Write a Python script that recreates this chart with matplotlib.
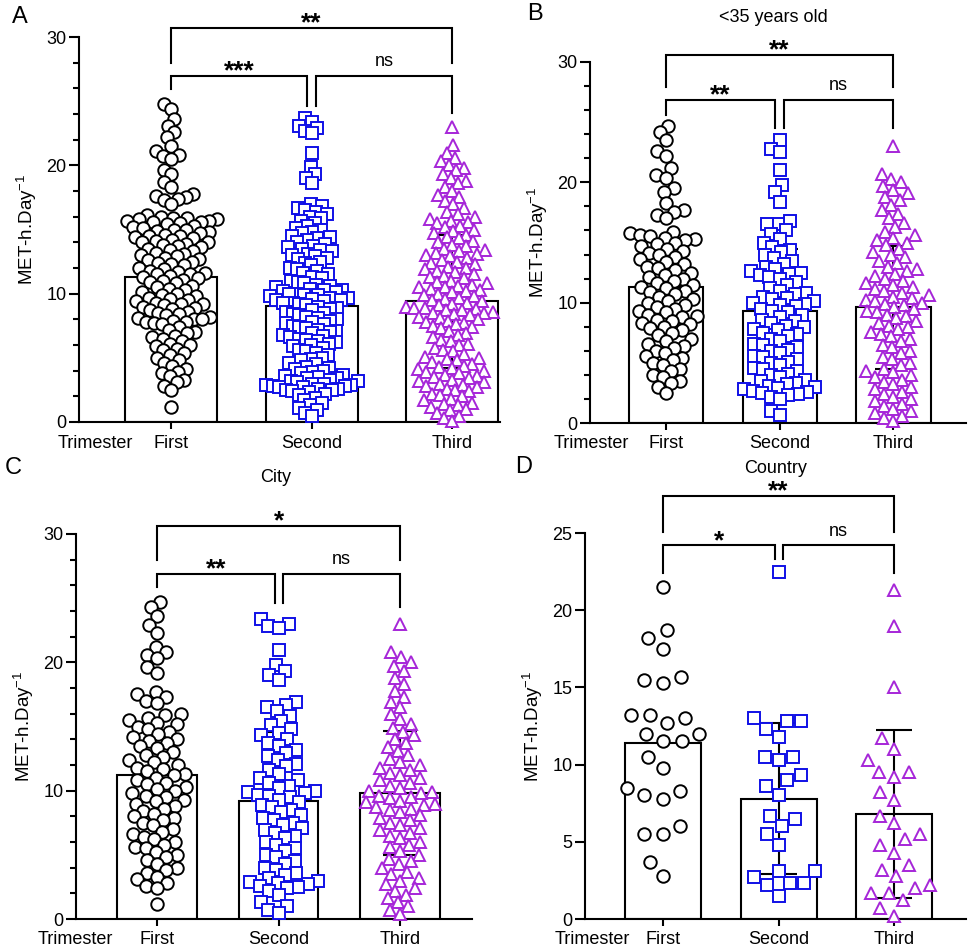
import numpy as np
import matplotlib
matplotlib.use("Agg")
import matplotlib.pyplot as plt
from matplotlib.ticker import MultipleLocator
from matplotlib.transforms import blended_transform_factory

plt.rcParams['font.family'] = ['Liberation Sans', 'DejaVu Sans']
plt.rcParams['mathtext.fontset'] = 'custom'
plt.rcParams['mathtext.rm'] = 'Liberation Sans'
plt.rcParams['mathtext.default'] = 'regular'

CATEGORIES = ["First", "Second", "Third"]
YLABEL = r"MET-h.Day$^{-1}$"

# ---- panel A: all participants ----
A_FIRST = [24.8, 24.4, 23.6, 23.1, 22.6, 22.2, 21.5, 21.1, 20.8, 20.7, 20.5, 19.6, 19.3, 18.7, 18.3,
           17.8, 17.6, 17.5, 17.4, 17.3, 17.0, 16.1, 16.0, 15.9,
           15.9, 15.8, 15.8, 15.7, 15.7, 15.6, 15.6, 15.5, 15.4, 15.3, 15.2, 15.1, 15.0, 15.0,
           14.9, 14.8, 14.7, 14.6, 14.5, 14.5, 14.4, 14.3, 14.2, 14.1, 14.0, 14.0,
           13.9, 13.8, 13.7, 13.6, 13.5, 13.4, 13.3, 13.2, 13.1, 13.0,
           12.9, 12.8, 12.7, 12.6, 12.5, 12.4, 12.3, 12.2, 12.0,
           11.9, 11.8, 11.7, 11.6, 11.5, 11.5, 11.4, 11.3, 11.2, 11.1, 11.0,
           10.9, 10.8, 10.6, 10.5, 10.4, 10.3, 10.1, 10.0,
           9.9, 9.8, 9.7, 9.6, 9.5, 9.4, 9.3, 9.2, 9.2, 9.1, 9.0,
           8.9, 8.8, 8.7, 8.6, 8.5, 8.4, 8.3, 8.2, 8.1, 8.0, 8.0,
           7.9, 7.8, 7.8, 7.7, 7.6, 7.4, 7.2, 7.0,
           6.9, 6.7, 6.6, 6.5, 6.3, 6.1, 6.0, 5.9, 5.7, 5.6, 5.4, 5.2, 5.0,
           4.8, 4.6, 4.4, 4.1, 3.9, 3.8, 3.6, 3.3, 3.1, 2.8, 2.5, 1.2]
A_SECOND = [23.7, 23.4, 23.1, 22.9, 22.7, 22.5, 21.0, 19.9, 19.3, 19.0, 18.6,
            17.0, 16.8, 16.7, 16.5, 16.4, 16.2, 16.0, 15.9,
            15.7, 15.5, 15.3, 15.1, 15.0, 14.8, 14.7, 14.5, 14.4, 14.3,
            14.2, 14.0, 13.9, 13.7, 13.6, 13.5, 13.4, 13.3, 13.1, 13.0, 12.9, 12.8,
            12.7, 12.5, 12.4, 12.2, 12.0, 11.9, 11.8, 11.6, 11.5, 11.3, 11.2,
            11.0, 10.9, 10.8, 10.7, 10.6, 10.5, 10.4, 10.3, 10.3, 10.2, 10.1, 10.0, 10.0,
            9.9, 9.9, 9.8, 9.7, 9.7, 9.6, 9.5, 9.5, 9.4, 9.3, 9.3, 9.2, 9.1, 9.0,
            8.9, 8.8, 8.7, 8.6, 8.5, 8.4, 8.3, 8.2, 8.1, 8.0, 7.9, 7.8, 7.7, 7.6, 7.5,
            7.4, 7.3, 7.2, 7.1, 7.0, 6.9, 6.8, 6.7, 6.6, 6.5,
            6.4, 6.3, 6.2, 6.1, 6.0, 5.9, 5.8, 5.6, 5.5, 5.4, 5.2, 5.0, 4.9, 4.8, 4.6, 4.5, 4.3, 4.2,
            4.1, 4.0, 3.9, 3.8, 3.7, 3.6, 3.5, 3.4, 3.4, 3.3, 3.2, 3.2, 3.1, 3.0, 3.0,
            2.9, 2.9, 2.8, 2.8, 2.7, 2.7, 2.6, 2.6, 2.5, 2.5, 2.4, 2.3, 2.2, 2.1,
            1.9, 1.7, 1.5, 1.3, 1.1, 0.9, 0.7, 0.5]
A_THIRD = [23.0, 21.6, 21.0, 20.6, 20.3, 20.0, 19.8, 19.6, 19.3, 19.0, 18.8, 18.6,
           18.3, 18.0, 17.7, 17.5, 17.2, 17.0, 16.7, 16.4, 16.2, 16.0, 15.8, 15.7,
           15.6, 15.5, 15.3, 15.2, 15.0, 14.9, 14.7, 14.6, 14.4, 14.3, 14.1, 14.0, 13.8, 13.7,
           13.5, 13.4, 13.3, 13.2, 13.1, 13.0, 12.9, 12.8, 12.6, 12.5, 12.4, 12.3, 12.1, 12.0,
           11.9, 11.8, 11.7, 11.5, 11.4, 11.3, 11.2, 11.0, 10.9, 10.8, 10.7, 10.6, 10.5, 10.5,
           10.4, 10.3, 10.2, 10.1, 10.0, 9.9, 9.8, 9.7, 9.6, 9.5,
           9.4, 9.3, 9.2, 9.1, 9.0, 8.9, 8.9, 8.8, 8.7, 8.7, 8.6, 8.5, 8.5, 8.4, 8.3, 8.2,
           8.1, 8.0, 7.9, 7.8, 7.7, 7.6, 7.5, 7.4,
           7.3, 7.1, 6.9, 6.8, 6.6, 6.4, 6.3, 6.1, 6.0, 5.8, 5.6, 5.5, 5.3, 5.1, 5.0, 4.9, 4.8, 4.7,
           4.5, 4.4, 4.3, 4.2, 4.1, 4.0, 3.9, 3.8, 3.7, 3.6, 3.5, 3.4, 3.3, 3.2, 3.1, 3.0,
           2.9, 2.8, 2.7, 2.6, 2.5, 2.4, 2.2, 2.1, 2.0, 1.8, 1.7, 1.5, 1.4, 1.3, 1.2, 1.0,
           0.9, 0.7, 0.5, 0.3, 0.1]
A_MEAN = [11.3, 9.05, 9.4]
A_SD = [None, 5.2, 5.2]

# ---- panel B: <35 years old ----
B_FIRST = [24.7, 24.2, 23.5, 22.6, 22.2, 21.2, 20.6, 20.4, 19.5, 19.2, 18.3, 17.7, 17.5, 17.3, 17.0,
           15.9, 15.8, 15.6, 15.5, 15.4, 15.3, 15.2, 15.0, 14.9, 14.7, 14.5, 14.3, 14.1, 14.0,
           13.8, 13.6, 13.4, 13.2, 13.0, 12.9, 12.7, 12.5, 12.3, 12.1, 12.0, 11.8, 11.6, 11.5,
           11.3, 11.2, 11.0, 10.9, 10.7, 10.5, 10.3, 10.1, 10.0, 9.8, 9.6, 9.5, 9.3, 9.2, 9.0,
           8.9, 8.8, 8.6, 8.5, 8.3, 8.2, 8.0, 7.9, 7.7, 7.5, 7.3, 7.0, 6.8, 6.6, 6.4, 6.2, 6.0,
           5.8, 5.6, 5.4, 5.2, 5.0, 4.8, 4.5, 4.3, 4.0, 3.8, 3.5, 3.3, 3.0, 2.5]
B_SECOND = [23.5, 22.8, 22.5, 21.0, 19.8, 19.2, 18.4, 16.8, 16.5, 16.5, 16.0, 15.7, 15.3, 15.0,
            14.6, 14.4, 14.2, 14.0, 13.7, 13.5, 13.2, 13.0, 12.8, 12.6, 12.5, 12.4, 12.3, 12.1,
            12.0, 11.7, 11.5, 11.2, 11.0, 10.8, 10.7, 10.5, 10.4, 10.3, 10.1, 10.0, 9.9, 9.8,
            9.7, 9.5, 9.3, 9.2, 9.0, 8.8, 8.6, 8.5, 8.3, 8.1, 8.0, 7.8, 7.7, 7.5, 7.4, 7.2, 7.0,
            6.8, 6.6, 6.5, 6.3, 6.1, 6.0, 5.8, 5.6, 5.5, 5.3, 5.1, 5.0, 4.8, 4.6, 4.5, 4.3, 4.1,
            4.0, 3.8, 3.6, 3.5, 3.3, 3.2, 3.1, 3.0, 2.9, 2.8, 2.7, 2.6, 2.5, 2.4, 2.3, 2.2, 2.0,
            1.0, 0.7]
B_THIRD = [23.0, 20.7, 20.3, 20.0, 19.7, 19.4, 19.1, 18.8, 18.5, 18.1, 17.7, 17.4, 17.0, 16.6,
           16.3, 15.9, 15.6, 15.4, 15.2, 15.0, 14.8, 14.5, 14.2, 14.0, 13.8, 13.5, 13.3, 13.0,
           12.8, 12.6, 12.4, 12.2, 12.0, 11.8, 11.6, 11.5, 11.3, 11.1, 11.0, 10.8, 10.6, 10.5,
           10.4, 10.2, 10.1, 10.0, 9.9, 9.8, 9.6, 9.5, 9.3, 9.2, 9.0, 8.9, 8.7, 8.5, 8.3, 8.1,
           8.0, 7.8, 7.6, 7.4, 7.2, 7.0, 6.8, 6.5, 6.3, 6.0, 5.8, 5.5, 5.3, 5.0, 4.8, 4.5, 4.3,
           4.2, 4.0, 3.8, 3.6, 3.4, 3.2, 3.0, 2.8, 2.6, 2.4, 2.2, 2.0, 1.8, 1.6, 1.4, 1.2, 1.0,
           0.8, 0.6, 0.4, 0.2]
B_MEAN = [11.3, 9.3, 9.6]
B_SD = [None, 5.2, 5.1]

# ---- panel C: City ----
C_FIRST = [24.7, 24.3, 23.6, 22.9, 22.3, 21.2, 20.8, 20.6, 20.3, 19.6, 19.2, 17.7, 17.5, 17.3,
           17.0, 16.8, 16.0, 15.9, 15.7, 15.5, 15.3, 15.2, 15.0, 14.8, 14.6, 14.4, 14.2, 14.0,
           13.9, 13.7, 13.5, 13.3, 13.0, 12.8, 12.6, 12.4, 12.2, 12.0, 11.8, 11.7, 11.5, 11.3,
           11.2, 11.0, 10.8, 10.6, 10.5, 10.3, 10.1, 10.0, 9.8, 9.6, 9.5, 9.3, 9.2, 9.0, 8.8,
           8.6, 8.4, 8.2, 8.0, 7.9, 7.7, 7.5, 7.3, 7.0, 6.8, 6.6, 6.4, 6.2, 6.0, 5.8, 5.6, 5.5,
           5.2, 5.0, 4.8, 4.6, 4.3, 4.0, 3.8, 3.6, 3.3, 3.1, 2.8, 2.6, 2.4, 1.2]
C_SECOND = [23.4, 23.0, 22.8, 22.7, 21.0, 19.8, 19.3, 19.0, 18.6, 16.9, 16.7, 16.5, 16.2, 15.8,
            15.4, 15.1, 14.8, 14.5, 14.3, 14.0, 13.7, 13.5, 13.2, 12.9, 12.7, 12.4, 12.1, 11.9,
            11.6, 11.3, 11.0, 10.8, 10.6, 10.4, 10.2, 10.0, 9.9, 9.8, 9.7, 9.6, 9.5, 9.3, 9.1,
            8.9, 8.7, 8.5, 8.3, 8.1, 7.9, 7.7, 7.5, 7.3, 7.1, 6.9, 6.7, 6.5, 6.3, 6.0, 5.8, 5.5,
            5.3, 5.0, 4.8, 4.5, 4.3, 4.0, 3.8, 3.6, 3.4, 3.2, 3.0, 2.9, 2.8, 2.7, 2.6, 2.5, 2.4,
            2.2, 1.9, 1.3, 1.0, 0.7, 0.5]
C_THIRD = [23.0, 20.8, 20.4, 20.0, 19.7, 19.3, 18.8, 18.3, 17.8, 17.3, 16.9, 16.5, 16.0, 15.6,
           15.2, 14.9, 14.6, 14.3, 14.0, 13.7, 13.4, 13.1, 12.8, 12.5, 12.2, 12.0, 11.8, 11.6,
           11.4, 11.2, 11.0, 10.8, 10.6, 10.4, 10.2, 10.0, 9.9, 9.8, 9.6, 9.5, 9.4, 9.2, 9.1,
           9.0, 8.9, 8.7, 8.6, 8.5, 8.3, 8.1, 7.9, 7.7, 7.5, 7.3, 7.1, 6.9, 6.7, 6.5, 6.3, 6.0,
           5.8, 5.6, 5.3, 5.0, 4.7, 4.5, 4.3, 4.0, 3.7, 3.5, 3.2, 3.0, 2.7, 2.4, 2.2, 1.9, 1.6,
           1.3, 1.0, 0.7, 0.4]
C_MEAN = [11.2, 9.2, 9.8]
C_SD = [None, 5.4, 4.85]

# ---- panel D: Country ----
D_FIRST = [21.5, 18.7, 18.2, 17.5, 15.7, 15.3, 15.5, 13.2, 13.0, 12.7, 13.2, 12.0, 12.0,
           11.5, 11.5, 10.5, 9.8, 8.5, 7.8, 8.0, 8.3, 6.0, 5.5, 5.5, 3.7, 2.8]
D_SECOND = [22.5, 13.0, 12.3, 12.8, 12.8, 11.8, 10.5, 10.5, 10.3, 9.3, 9.0, 8.6, 8.0, 6.7,
            6.5, 6.0, 5.5, 4.8, 3.1, 3.1, 2.7, 2.3, 2.3, 2.2, 1.5]
D_THIRD = [21.3, 19.0, 15.0, 11.7, 11.0, 10.3, 9.5, 9.5, 9.2, 8.2, 7.7, 6.7, 6.2, 5.5, 5.2,
           4.8, 4.3, 3.5, 3.2, 2.8, 2.2, 2.0, 1.7, 1.7, 1.2, 0.7, 0.2]
D_MEAN = [11.4, 7.8, 6.8]
D_SD = [None, 4.9, 5.45]

COLORS = ["black", "#1010e6", "#a626d8"]
MARKERS = [("o", 9.0), ("s", 8.0), ("^", 9.0)]

FIG_W, FIG_H = 972, 949
fig = plt.figure(figsize=(FIG_W / 100, FIG_H / 100), dpi=100)


def px_axes(left, right, top, bottom):
    return fig.add_axes([left / FIG_W, 1 - bottom / FIG_H,
                         (right - left) / FIG_W, (bottom - top) / FIG_H])


def swarm(vals, center, ax, diam, max_half):
    # simple beeswarm in pixel space, squeezed to fit the bar width
    pos = ax.get_position()
    x0, x1 = ax.get_xlim()
    y0, y1 = ax.get_ylim()
    xpp = pos.width * FIG_W / (x1 - x0)
    ypp = pos.height * FIG_H / (y1 - y0)
    v = np.asarray(vals, float)
    xs = np.zeros(len(v))
    px, py = [], []
    for i in np.argsort(v, kind="stable"):
        y = v[i] * ypp
        cands = [0.0]
        for a, b in zip(px, py):
            dy = y - b
            if abs(dy) < diam:
                dx = np.sqrt(diam * diam - dy * dy)
                cands += [a - dx, a + dx]
        cands.sort(key=abs)
        for c in cands:
            if all((c - a) ** 2 + (y - b) ** 2 >= diam * diam - 1e-6 for a, b in zip(px, py)):
                break
        xs[i] = c
        px.append(c)
        py.append(y)
    m = np.abs(xs).max()
    if m > max_half:
        xs *= max_half / m
    return center + xs / xpp


def panel(ax, groups, means, sds, ylim, major, minor, capsize, diam, max_half,
          brackets, trim_x):
    xpos = np.arange(len(CATEGORIES))
    ax.set_ylim(*ylim)
    ax.bar(xpos, means, width=0.655, color="white", edgecolor="black", linewidth=1.5, zorder=1)
    for x, m, s in zip(xpos, means, sds):
        if s is not None:
            ax.errorbar(x, m, yerr=s, fmt="none", ecolor="black", elinewidth=1.5,
                        capsize=capsize, capthick=1.5, zorder=2)
    for x, vals, col, (mk, ms) in zip(xpos, groups, COLORS, MARKERS):
        xs = swarm(vals, x, ax, diam, max_half)
        ax.plot(xs, vals, ls="none", marker=mk, ms=ms, mfc="white", mec=col, mew=1.4,
                zorder=3, clip_on=False)

    for sp in ("top", "right"):
        ax.spines[sp].set_visible(False)
    for sp in ("left", "bottom"):
        ax.spines[sp].set_linewidth(1.5)
    ax.yaxis.set_major_locator(MultipleLocator(major))
    if minor:
        ax.yaxis.set_minor_locator(MultipleLocator(minor))
    ax.tick_params(axis="y", which="major", length=7, width=1.5, labelsize=13, pad=2)
    ax.tick_params(axis="y", which="minor", length=4, width=1.5)
    ax.tick_params(axis="x", length=5, width=1.5, labelsize=13, pad=4)
    ax.set_xticks(xpos)
    ax.set_xticklabels(CATEGORIES)
    ax.set_ylabel(YLABEL, fontsize=13.5, labelpad=5)

    tr = blended_transform_factory(ax.transData, ax.transAxes)
    ax.annotate("Trimester", xy=(trim_x, 0), xycoords=tr, xytext=(0, -9),
                textcoords="offset points", ha="right", va="top", fontsize=13)

    for x1, x2, y, l1, l2, txt in brackets:
        ax.plot([x1, x1, x2, x2], [l1, y, y, l2], color="black", lw=1.5, clip_on=False,
                solid_joinstyle="miter")
        if txt == "ns":
            ax.annotate(txt, xy=((x1 + x2) / 2, y), xytext=(0, 7), textcoords="offset points",
                        ha="center", va="baseline", fontsize=13, annotation_clip=False)
        else:
            ax.annotate(txt, xy=((x1 + x2) / 2, y), xytext=(0, -2), textcoords="offset points",
                        ha="center", va="baseline", fontsize=19, fontweight="bold",
                        annotation_clip=False)


# A
axA = px_axes(79, 500, 37, 422)
axA.set_xlim(-0.655, 2.34)
panel(axA, [A_FIRST, A_SECOND, A_THIRD], A_MEAN, A_SD, (0, 30), 10, 2, 16, 10.5, 46,
      [(0, 2, 30.7, 28.0, 28.0, "**"),
       (0, 0.968, 27.0, 25.95, 24.6, "***"),
       (1.032, 2, 27.0, 24.6, 24.1, "ns")], -0.27)

# B
axB = px_axes(590, 966, 62, 423)
axB.set_xlim(-0.67, 2.64)
panel(axB, [B_FIRST, B_SECOND, B_THIRD], B_MEAN, B_SD, (0, 30), 10, 2, 13, 11, 36,
      [(0, 2, 30.6, 27.9, 27.9, "**"),
       (0, 0.96, 26.85, 25.6, 24.55, "**"),
       (1.037, 2, 26.85, 24.55, 24.55, "ns")], -0.326)

# C
axC = px_axes(76, 472, 534, 919)
axC.set_xlim(-0.667, 2.59)
panel(axC, [C_FIRST, C_SECOND, C_THIRD], C_MEAN, C_SD, (0, 30), 10, 2, 12, 11, 39,
      [(0, 2, 30.65, 28.0, 28.0, "*"),
       (0, 0.971, 26.9, 25.85, 24.6, "**"),
       (1.034, 2, 26.9, 24.6, 24.3, "ns")], -0.362)

# D
axD = px_axes(585, 966, 533, 919)
axD.set_xlim(-0.675, 2.62)
panel(axD, [D_FIRST, D_SECOND, D_THIRD], D_MEAN, D_SD, (0, 25), 5, None, 13, 19, 36,
      [(0, 2, 27.4, 25.07, 25.07, "**"),
       (0, 0.964, 24.2, 22.4, 23.3, "*"),
       (1.036, 2, 24.2, 23.3, 22.4, "ns")], -0.286)

# titles and panel letters (pixel positions)
for txt, x, y in [("<35 years old", 773, 17), ("City", 276, 478), ("Country", 776, 469)]:
    fig.text(x / FIG_W, 1 - y / FIG_H, txt, ha="center", va="center", fontsize=13)
for txt, x, y in [("A", 20, 17), ("B", 535, 14), ("C", 13, 468), ("D", 524, 467)]:
    fig.text(x / FIG_W, 1 - y / FIG_H, txt, ha="center", va="center", fontsize=17)

fig.savefig("out.png", dpi=100)
